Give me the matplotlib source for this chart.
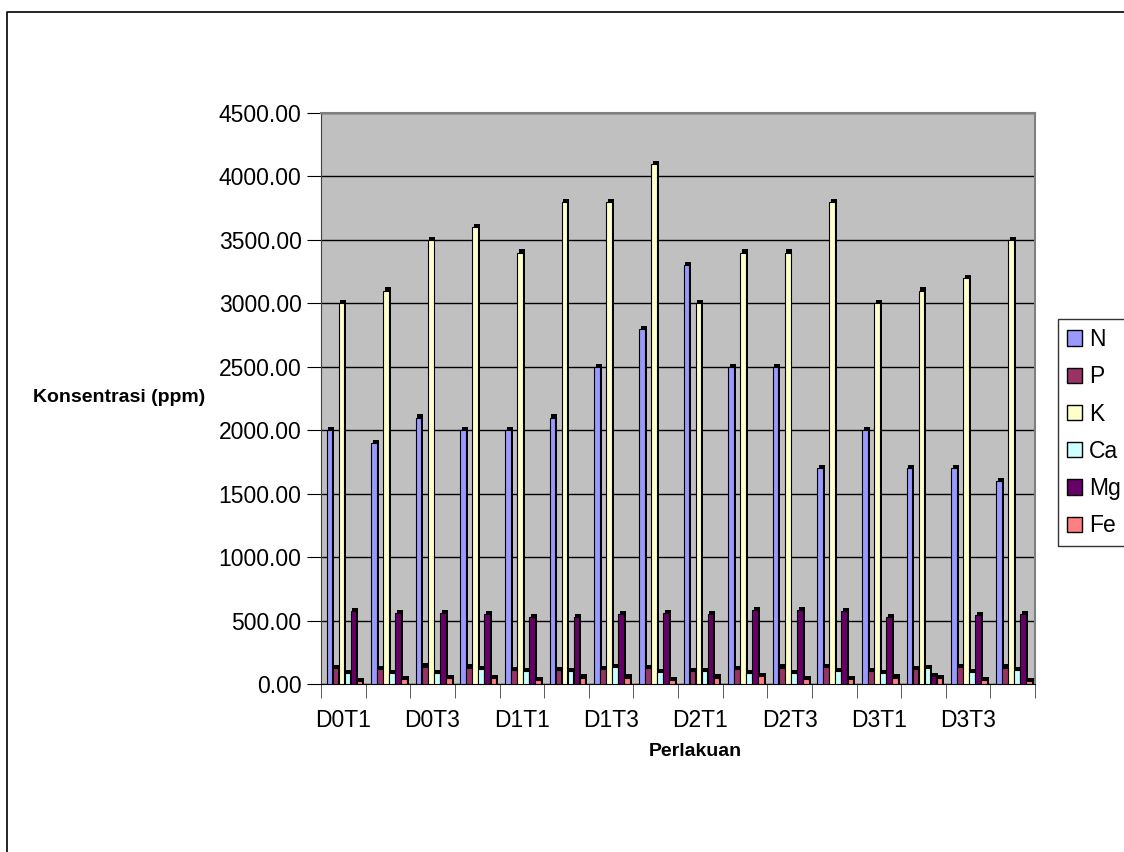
import numpy as np
import matplotlib
matplotlib.use("Agg")
import matplotlib.pyplot as plt
from matplotlib.lines import Line2D
from matplotlib.patches import Patch

plt.rcParams['font.family'] = ['Liberation Sans', 'DejaVu Sans']

# -- data --
treatments = ["D0T1", "D0T2", "D0T3", "D0T4", "D1T1", "D1T2", "D1T3", "D1T4",
              "D2T1", "D2T2", "D2T3", "D2T4", "D3T1", "D3T2", "D3T3", "D3T4"]
N = [2000, 1900, 2100, 2000, 2000, 2100, 2500, 2800, 3300, 2500, 2500, 1700, 2000, 1700, 1700, 1600]
P = [125, 120, 137, 130, 112, 112, 120, 125, 100, 120, 130, 135, 105, 120, 135, 130]
K = [3000, 3100, 3500, 3600, 3400, 3800, 3800, 4100, 3000, 3400, 3400, 3800, 3000, 3100, 3200, 3500]
Ca = [87, 87, 87, 117, 100, 100, 132, 92, 100, 87, 87, 100, 87, 125, 95, 112]
Mg = [575, 562, 562, 550, 525, 525, 550, 562, 550, 580, 580, 575, 530, 62, 545, 550]
Fe = [20, 37, 45, 45, 30, 50, 50, 32, 50, 62, 37, 37, 50, 45, 30, 20]

series = {"N": N, "P": P, "K": K, "Ca": Ca, "Mg": Mg, "Fe": Fe}
colors = {"N": "#9999FF", "P": "#993366", "K": "#FFFFCC",
          "Ca": "#CCFFFF", "Mg": "#660066", "Fe": "#FF8080"}

fig = plt.figure(figsize=(11.24, 8.52), dpi=100)
ax = fig.add_axes([321 / 1124, 1 - 684 / 852, (1035 - 321) / 1124, (684 - 113) / 852])
ax.set_facecolor("#C0C0C0")

x = np.arange(len(treatments))
w = 0.135
for i, (name, vals) in enumerate(series.items()):
    pos = x - 0.38 + w / 2 + i * w
    # dark "depth" side to mimic the 3-D column look
    ax.bar(pos + w * 0.3, np.array(vals) + 25, width=w, color="black", zorder=2)
    ax.bar(pos, vals, width=w * 0.95, color=colors[name], edgecolor="black",
           linewidth=0.8, zorder=3)

ax.set_xlim(-0.5, len(treatments) - 0.5)
ax.set_ylim(0, 4500)
ax.set_yticks(np.arange(0, 4501, 500))
ax.set_yticklabels([f"{v:.2f}" for v in np.arange(0, 4501, 500)], fontsize=16.5)
ax.yaxis.grid(True, color="black", linewidth=1)
ax.set_axisbelow(True)

ax.set_xticks(x[::2])
ax.set_xticklabels(treatments[::2], fontsize=16.5)
ax.set_xticks(np.arange(-0.5, len(treatments)), minor=True)
ax.tick_params(axis="x", which="major", length=0, pad=18)
ax.tick_params(axis="x", which="minor", length=10, color="#404040")
ax.tick_params(axis="y", length=10, pad=4)

for s in ["top", "right"]:
    ax.spines[s].set_color("#808080")
    ax.spines[s].set_linewidth(1.5)
ax.spines["left"].set_color("#404040")
ax.spines["bottom"].set_color("black")

fig.text(119 / 1124, 1 - 398 / 852, "Konsentrasi (ppm)", fontsize=14,
         fontweight="bold", ha="center", va="center")
fig.text(695 / 1124, 1 - 752 / 852, "Perlakuan", fontsize=14,
         fontweight="bold", ha="center", va="center")

handles = [Patch(facecolor=colors[n], edgecolor="black", label=n) for n in series]
leg = fig.legend(handles=handles, loc="upper left",
                 bbox_to_anchor=(1058 / 1124, 1 - 319 / 852), fontsize=16.5,
                 frameon=True, fancybox=False, edgecolor="black",
                 handlelength=0.65, handleheight=0.65, handletextpad=0.3,
                 labelspacing=0.62, borderpad=0.4, borderaxespad=0)
leg.get_frame().set_linewidth(1)

# outer chart border (cut off on the right and bottom)
fig.add_artist(Line2D([7 / 1124, 7 / 1124, 1], [0, 1 - 12 / 852, 1 - 12 / 852],
                      color="black", linewidth=1.2, transform=fig.transFigure))

fig.savefig("out.png", dpi=100)
